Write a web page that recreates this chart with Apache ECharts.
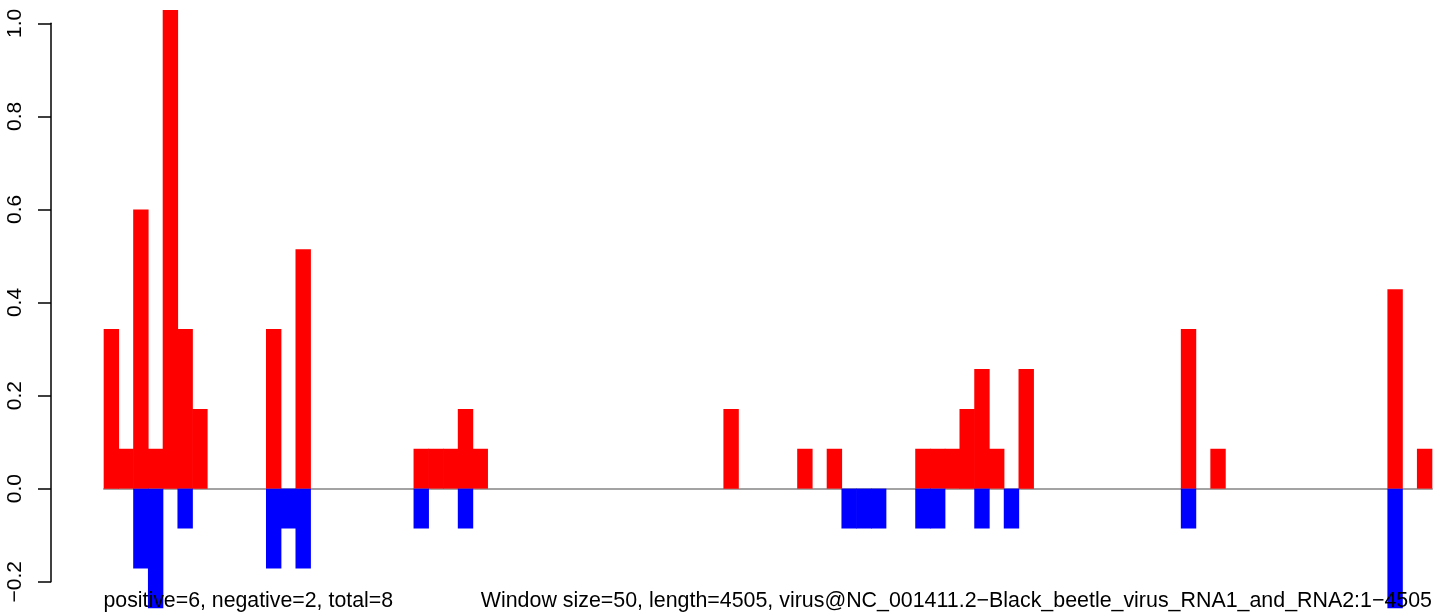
<!DOCTYPE html>
<html>
<head>
<meta charset="utf-8">
<script src="https://cdn.jsdelivr.net/npm/echarts@6/dist/echarts.min.js"></script>
<style>
  html, body { margin: 0; padding: 0; background: #ffffff; }
  #chart { width: 1449px; height: 615px; }
</style>
</head>
<body>
<div id="chart"></div>
<script>
// Window start positions (window size 50, length 4505)
const windowStarts = [
  1, 51, 101, 151, 201, 251, 301, 351, 401, 451,
  501, 551, 601, 651, 701, 751, 801, 851, 901, 951,
  1001, 1051, 1101, 1151, 1201, 1251, 1301, 1351, 1401, 1451,
  1501, 1551, 1601, 1651, 1701, 1751, 1801, 1851, 1901, 1951,
  2001, 2051, 2101, 2151, 2201, 2251, 2301, 2351, 2401, 2451,
  2501, 2551, 2601, 2651, 2701, 2751, 2801, 2851, 2901, 2951,
  3001, 3051, 3101, 3151, 3201, 3251, 3301, 3351, 3401, 3451,
  3501, 3551, 3601, 3651, 3701, 3751, 3801, 3851, 3901, 3951,
  4001, 4051, 4101, 4151, 4201, 4251, 4301, 4351, 4401, 4451
];

// Positive-strand values (red)
const positiveValues = [
  0.3429, 0.0857, 0.6, 0.0857, 1.0286, 0.3429, 0.1714, 0, 0, 0,
  0, 0.3429, 0, 0.5143, 0, 0, 0, 0, 0, 0,
  0, 0.0857, 0.0857, 0.0857, 0.1714, 0.0857, 0, 0, 0, 0,
  0, 0, 0, 0, 0, 0, 0, 0, 0, 0,
  0, 0, 0.1714, 0, 0, 0, 0, 0.0857, 0, 0.0857,
  0, 0, 0, 0, 0, 0.0857, 0.0857, 0.0857, 0.1714, 0.2571,
  0.0857, 0, 0.2571, 0, 0, 0, 0, 0, 0, 0,
  0, 0, 0, 0.3429, 0, 0.0857, 0, 0, 0, 0,
  0, 0, 0, 0, 0, 0, 0, 0.4286, 0, 0.0857
];

// Negative-strand values (blue)
const negativeValues = [
  0, 0, -0.1714, -0.2571, 0, -0.0857, 0, 0, 0, 0,
  0, -0.1714, -0.0857, -0.1714, 0, 0, 0, 0, 0, 0,
  0, -0.0857, 0, 0, -0.0857, 0, 0, 0, 0, 0,
  0, 0, 0, 0, 0, 0, 0, 0, 0, 0,
  0, 0, 0, 0, 0, 0, 0, 0, 0, 0,
  -0.0857, -0.0857, -0.0857, 0, 0, -0.0857, -0.0857, 0, 0, -0.0857,
  0, -0.0857, 0, 0, 0, 0, 0, 0, 0, 0,
  0, 0, 0, -0.0857, 0, 0, 0, 0, 0, 0,
  0, 0, 0, 0, 0, 0, 0, -0.2571, 0, 0
];

// Y axis ticks and labels
const yTicks = [-0.2, 0.0, 0.2, 0.4, 0.6, 0.8, 1.0];
const yTickLabels = ['\u22120.2', '0.0', '0.2', '0.4', '0.6', '0.8', '1.0'];

const leftNote = 'positive=6, negative=2, total=8';
const rightNote = 'Window size=50, length=4505, virus@NC_001411.2\u2212Black_beetle_virus_RNA1_and_RNA2:1\u22124505';

const FONT = "'Liberation Sans', Arial, Helvetica, sans-serif";

function labelFor(v) {
  let best = 0, bd = Infinity;
  yTicks.forEach((t, i) => { const d = Math.abs(t - v); if (d < bd) { bd = d; best = i; } });
  return yTickLabels[best];
}

// empty windows are drawn as no bar at all
const asBars = arr => arr.map(v => (v === 0 ? '-' : v));

const chart = echarts.init(document.getElementById('chart'), null, { renderer: 'canvas' });

const option = {
  animation: false,
  backgroundColor: '#ffffff',
  grid: {
    left: 104, right: 17, top: 23.3, bottom: 33.3,
    containLabel: false,
    outerBoundsMode: 'none'
  },
  xAxis: {
    type: 'category',
    data: windowStarts,
    boundaryGap: true,
    axisLine: { show: true, onZero: true, lineStyle: { color: '#a3a3a3', width: 2 } },
    axisTick: { show: false },
    axisLabel: { show: false },
    splitLine: { show: false }
  },
  yAxis: {
    type: 'value',
    min: yTicks[0],
    max: yTicks[yTicks.length - 1],
    interval: 0.2,
    offset: 53,
    axisLine: { show: true, lineStyle: { color: '#000000', width: 1.5 } },
    axisTick: { show: true, inside: false, length: 13, lineStyle: { color: '#000000', width: 1.5 } },
    axisLabel: {
      show: true,
      rotate: 90,
      margin: 25,
      fontSize: 21,
      fontFamily: FONT,
      color: '#000000',
      formatter: labelFor
    },
    splitLine: { show: false }
  },
  series: [
    {
      name: 'positive',
      type: 'bar',
      data: asBars(positiveValues),
      barGap: '-100%',
      barWidth: 15.4,
      clip: false,
      itemStyle: { color: '#ff0000', borderWidth: 0 },
      emphasis: { disabled: true }
    },
    {
      name: 'negative',
      type: 'bar',
      data: asBars(negativeValues),
      barGap: '-100%',
      barWidth: 15.4,
      clip: false,
      itemStyle: { color: '#0000ff', borderWidth: 0 },
      emphasis: { disabled: true }
    }
  ],
  graphic: [
    {
      type: 'text', z: 100, x: 103.5, y: 601,
      style: { text: leftNote, font: '21.3px ' + FONT, fill: '#000000', align: 'left', verticalAlign: 'middle' }
    },
    {
      type: 'text', z: 100, x: 1432, y: 601,
      style: { text: rightNote, font: '21.4px ' + FONT, fill: '#000000', align: 'right', verticalAlign: 'middle' }
    }
  ]
};

chart.setOption(option);
</script>
</body>
</html>
